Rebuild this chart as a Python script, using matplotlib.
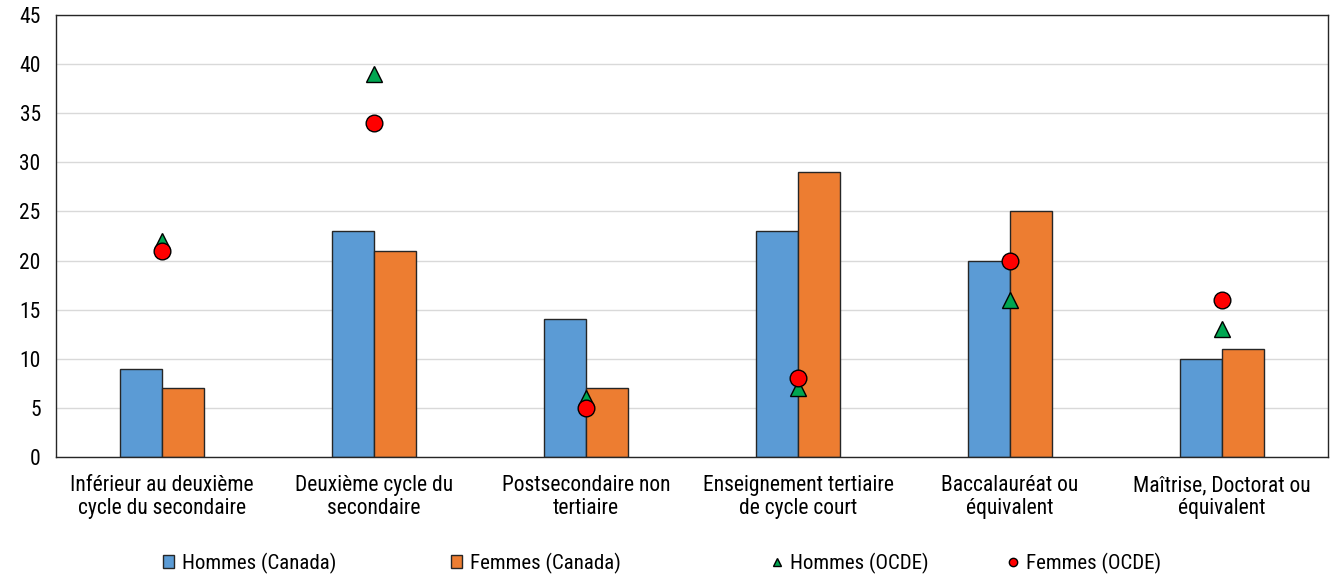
import matplotlib
matplotlib.use("Agg")
from matplotlib import pyplot as plt
import numpy as np

plt.rcParams['font.family'] = ['Liberation Sans Narrow', 'Roboto Condensed', 'Roboto', 'DejaVu Sans']

categories = ["Inférieur au deuxième\ncycle du secondaire",
              "Deuxième cycle du\nsecondaire",
              "Postsecondaire non\ntertiaire",
              "Enseignement tertiaire\nde cycle court",
              "Baccalauréat ou\néquivalent",
              "Maîtrise, Doctorat ou\néquivalent"]
hommes_canada = [9, 23, 14, 23, 20, 10]
femmes_canada = [7, 21, 7, 29, 25, 11]
hommes_ocde = [22, 39, 6, 7, 16, 13]
femmes_ocde = [21, 34, 5, 8, 20, 16]

fig = plt.figure(figsize=(13.3, 5.76), dpi=100)
ax = fig.add_axes([0.0421, 0.2066, 0.9564, 0.7674])

x = np.arange(len(categories))
w = 0.2
b1 = ax.bar(x - w / 2, hommes_canada, w, color='#5B9BD5', edgecolor='#262626', linewidth=1, zorder=2)
b2 = ax.bar(x + w / 2, femmes_canada, w, color='#ED7D31', edgecolor='#262626', linewidth=1, zorder=2)
l1, = ax.plot(x, hommes_ocde, ls='none', marker='^', ms=11.5, mfc='#00A651', mec='black', mew=1, zorder=3)
l2, = ax.plot(x, femmes_ocde, ls='none', marker='o', ms=12, mfc='#FF0000', mec='black', mew=1, zorder=4)

ax.set_xlim(-0.5, len(categories) - 0.5)
ax.set_ylim(0, 45)
ax.set_yticks(range(0, 46, 5))
ax.set_xticks(x)
ax.set_xticklabels(categories, fontsize=15.5, linespacing=1.15)
ax.tick_params(axis='both', length=0, labelsize=15.5)
ax.tick_params(axis='y', pad=11)
ax.tick_params(axis='x', pad=13)
ax.yaxis.grid(True, color='#d9d9d9', lw=1, zorder=0)
ax.set_axisbelow(True)
for s in ax.spines.values():
    s.set_color('#262626')
    s.set_linewidth(1)

# separate legend entries to match the uneven spacing
entries = [(b1, 'Hommes (Canada)', 163), (b2, 'Femmes (Canada)', 451),
           (l1, 'Hommes (OCDE)', 771), (l2, 'Femmes (OCDE)', 1007)]
for h, lab, px in entries:
    leg = fig.legend([h], [lab], loc='center left', bbox_to_anchor=(px / 1330, 0.0226),
                     frameon=False, fontsize=15, handlelength=0.55, handleheight=0.55,
                     handletextpad=0.35, borderpad=0, borderaxespad=0, markerscale=0.5)

fig.savefig('out.png', dpi=100)
